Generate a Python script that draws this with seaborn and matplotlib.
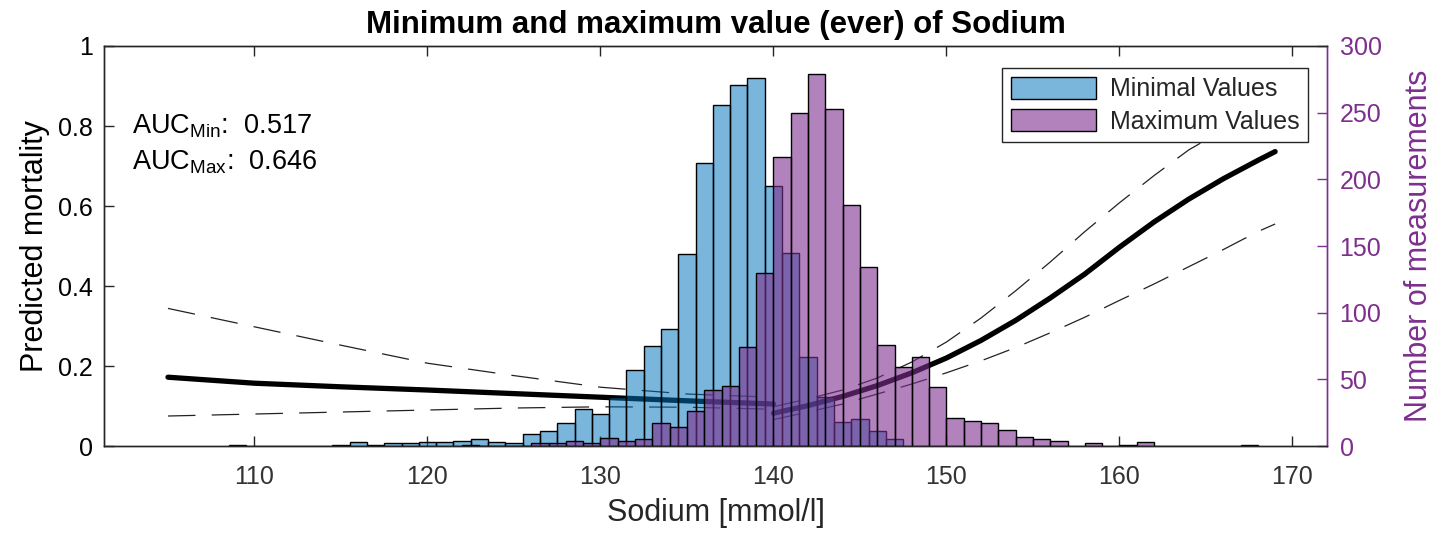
import numpy as np
import pandas as pd
import matplotlib
matplotlib.use("Agg")
import matplotlib.pyplot as plt
import seaborn as sns
from matplotlib.patches import Patch
from matplotlib.ticker import FuncFormatter, MultipleLocator

# ---- histogram data: number of patients per 1 mmol/l bin ----
# minimal sodium value per patient (bins centred on integers)
min_centers = [109, 110, 111, 112, 113, 114, 115, 116, 117, 118, 119, 120, 121, 122,
               123, 124, 125, 126, 127, 128, 129, 130, 131, 132, 133, 134, 135, 136,
               137, 138, 139, 140, 141, 142, 143, 144, 145, 146, 147]
min_counts = [1, 0, 0, 0, 0, 0, 1, 3, 1, 2, 2, 3, 3, 4,
              5, 3, 2, 9, 11, 17, 28, 24, 37, 57, 75, 88, 144, 212,
              256, 271, 276, 195, 145, 67, 37, 18, 20, 11, 5]

# maximal sodium value per patient (bins starting at integers)
max_left = [122, 123, 124, 125, 126, 127, 128, 129, 130, 131, 132, 133, 134, 135,
            136, 137, 138, 139, 140, 141, 142, 143, 144, 145, 146, 147, 148, 149,
            150, 151, 152, 153, 154, 155, 156, 157, 158, 159, 160, 161, 162, 163,
            164, 165, 166, 167]
max_counts = [1, 0, 0, 0, 2, 2, 4, 2, 6, 4, 5, 17, 14, 26,
              42, 45, 74, 130, 217, 250, 279, 253, 181, 134, 76, 59, 67, 44,
              21, 19, 17, 12, 7, 5, 4, 0, 2, 0, 1, 3, 0, 0,
              0, 0, 0, 1]

# ---- predicted mortality with confidence bounds ----
min_x = [105, 110, 115, 120, 125, 130, 135, 140]
min_fit = [0.172, 0.157, 0.148, 0.140, 0.131, 0.122, 0.113, 0.105]
min_lo = [0.075, 0.080, 0.085, 0.090, 0.095, 0.098, 0.097, 0.092]
min_hi = [0.344, 0.298, 0.252, 0.207, 0.176, 0.147, 0.130, 0.122]

max_x = [140, 142, 144, 146, 148, 150, 152, 154, 156, 158, 160, 162, 164, 166, 168, 169]
max_fit = [0.082, 0.101, 0.124, 0.151, 0.183, 0.220, 0.264, 0.314, 0.370, 0.430,
           0.497, 0.560, 0.617, 0.668, 0.714, 0.736]
max_lo = [0.066, 0.085, 0.105, 0.130, 0.155, 0.183, 0.213, 0.246, 0.283, 0.322,
          0.364, 0.405, 0.448, 0.491, 0.536, 0.555]
max_hi = [0.098, 0.118, 0.140, 0.170, 0.210, 0.260, 0.320, 0.388, 0.460, 0.536,
          0.608, 0.676, 0.740, 0.790, 0.830, 0.848]

auc_min = 0.517
auc_max = 0.646

# ---- styling ----
sns.set_theme(style="white")
plt.rcParams["font.family"] = ["Liberation Sans", "DejaVu Sans"]
plt.rcParams["mathtext.fontset"] = "custom"
plt.rcParams["mathtext.rm"] = "Liberation Sans"
plt.rcParams["mathtext.it"] = "Liberation Sans"

BLUE = (0.0, 0.447, 0.741)
PURPLE = (0.494, 0.184, 0.556)
AXCOL = (0.15, 0.15, 0.15)

fig = plt.figure(figsize=(14.34, 5.33), dpi=100)
ax = fig.add_axes([0.0725, 0.1632, 0.8529, 0.7505])
ax2 = ax.twinx()

# fitted curves with dashed confidence bounds (left axis)
dash = (0, (22, 13))
for xs, fit, lo, hi in [(min_x, min_fit, min_lo, min_hi),
                        (max_x, max_fit, max_lo, max_hi)]:
    sns.lineplot(x=xs, y=fit, ax=ax, color="black", linewidth=3.8, sort=False)
    sns.lineplot(x=xs, y=lo, ax=ax, color="#222222", linewidth=0.9,
                 linestyle=dash, sort=False)
    sns.lineplot(x=xs, y=hi, ax=ax, color="#222222", linewidth=0.9,
                 linestyle=dash, sort=False)

# histograms (right axis)
df_min = pd.DataFrame({"sodium": min_centers, "n": min_counts})
df_max = pd.DataFrame({"sodium": [v + 0.5 for v in max_left], "n": max_counts})
min_edges = [c - 0.5 for c in min_centers] + [min_centers[-1] + 0.5]
max_edges = list(max_left) + [max_left[-1] + 1]

sns.histplot(data=df_min, x="sodium", weights="n", bins=min_edges, ax=ax2,
             color=BLUE, alpha=0.52, edgecolor="black", linewidth=1.0)
sns.histplot(data=df_max, x="sodium", weights="n", bins=max_edges, ax=ax2,
             color=PURPLE, alpha=0.6, edgecolor="black", linewidth=1.0)

# ---- axes ----
ax.set_xlim(101.3, 172.0)
ax.set_ylim(0, 1)
ax2.set_ylim(0, 300)
ax.xaxis.set_major_locator(MultipleLocator(10))
ax.yaxis.set_major_locator(MultipleLocator(0.2))
ax.yaxis.set_major_formatter(FuncFormatter(lambda v, p: f"{v:g}"))
ax2.yaxis.set_major_locator(MultipleLocator(50))

ax.set_xlabel("Sodium [mmol/l]", fontsize=22, color=AXCOL, labelpad=6)
ax.set_ylabel("Predicted mortality", fontsize=22, color="black", labelpad=6)
ax2.set_ylabel("Number of measurements", fontsize=22, color=PURPLE, labelpad=16)
ax2.set_xlabel("")

ax.tick_params(axis="x", which="both", direction="in", length=7, width=1,
               top=True, bottom=True, labelsize=18, colors=AXCOL,
               labelcolor="#333333", pad=14)
ax.tick_params(axis="y", direction="in", length=7, width=1, left=True, right=False,
               labelsize=18, colors=AXCOL, labelcolor="black", pad=8)
ax2.tick_params(axis="y", direction="in", length=7, width=1, right=True, left=False,
                labelsize=18, colors=PURPLE, pad=9)

for a in (ax, ax2):
    for s in a.spines.values():
        s.set_linewidth(1.0)
        s.set_color(AXCOL)
ax2.spines["right"].set_color(PURPLE)
ax.spines["right"].set_color(PURPLE)

ax.set_title("Minimum and maximum value (ever) of Sodium", fontsize=22.5,
             fontweight="bold", color="black", pad=9)

# AUC annotations
ax.text(102.9, 0.80, r"AUC$_{\mathrm{Min}}$:  " + f"{auc_min:.3f}", fontsize=19.5,
        va="center", ha="left", color="black")
ax.text(102.9, 0.71, r"AUC$_{\mathrm{Max}}$:  " + f"{auc_max:.3f}", fontsize=19.5,
        va="center", ha="left", color="black")

# legend
handles = [Patch(facecolor=(*BLUE, 0.52), edgecolor="black", linewidth=1.0,
                 label="Minimal Values"),
           Patch(facecolor=(*PURPLE, 0.6), edgecolor="black", linewidth=1.0,
                 label="Maximum Values")]
leg = ax2.legend(handles=handles, loc="upper right", bbox_to_anchor=(0.9845, 0.945),
                 fontsize=18, frameon=True, fancybox=False, framealpha=1,
                 edgecolor=AXCOL, handlelength=3.4, handleheight=1.0,
                 borderpad=0.35, labelspacing=0.3, handletextpad=0.55,
                 borderaxespad=0)
leg.get_frame().set_linewidth(1.0)

fig.savefig("out.png", dpi=100)
